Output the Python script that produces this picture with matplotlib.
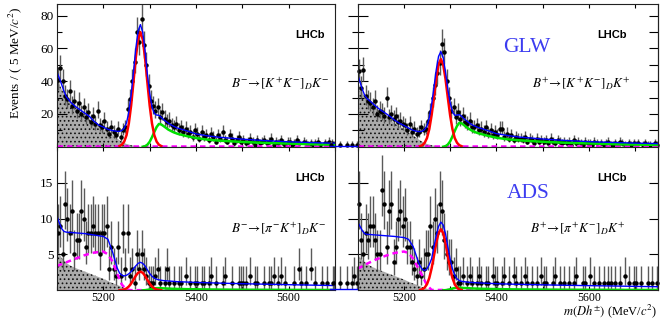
import numpy as np
import matplotlib.pyplot as plt
from matplotlib.ticker import MultipleLocator, FixedLocator, NullFormatter

plt.rcParams['font.family'] = ['Liberation Serif', 'DejaVu Serif']
plt.rcParams['mathtext.fontset'] = 'stix'
plt.rcParams['hatch.linewidth'] = 0.7
plt.rcParams['axes.linewidth'] = 0.8

W, H = 664, 322

# events per 5 MeV bin; left column starts at 5100, right column at 5040
left_bin0 = 5102.5
right_bin0 = 5042.5
bin_width = 5.0

kk_minus_counts = [
    41, 48, 40, 31, 29, 34, 25, 28, 22, 27,
    20, 24, 18, 21, 15, 19, 14, 22, 13, 12,
    16, 11, 8, 12, 9, 7, 11, 6, 10, 12,
    23, 29, 40, 52, 70, 64, 78, 62, 50, 37,
    28, 25, 22, 24, 18, 21, 17, 15, 16, 13,
    12, 14, 10, 12, 9, 11, 8, 9, 6, 10,
    8, 5, 9, 6, 7, 4, 8, 6, 3, 7,
    5, 9, 4, 3, 7, 5, 2, 4, 6, 3,
    4, 2, 3, 5, 3, 1, 4, 2, 3, 4,
    2, 3, 5, 1, 3, 2, 4, 2, 1, 3,
    3, 1, 2, 4, 2, 0, 3, 2, 1, 2,
    1, 2, 3, 1, 0, 2, 1, 3, 2, 1,
]
kk_plus_counts = [
    1, 0, 0, 0, 1, 0, 0, 1, 0, 1, 0, 1,
    46, 36, 47, 31, 28, 27, 24, 28, 20, 22,
    21, 19, 30, 18, 20, 17, 19, 15, 16, 14,
    13, 10, 14, 9, 11, 8, 9, 12, 10, 11,
    16, 21, 30, 38, 45, 51, 63, 58, 40, 30,
    22, 24, 18, 21, 17, 19, 15, 14, 16, 12,
    12, 13, 10, 11, 9, 12, 8, 10, 7, 9,
    7, 11, 11, 6, 8, 5, 7, 4, 6, 5,
    5, 4, 6, 3, 5, 4, 2, 5, 3, 4,
    3, 4, 2, 5, 3, 2, 4, 3, 2, 3,
    2, 3, 1, 4, 2, 3, 2, 1, 3, 2,
    2, 1, 3, 2, 0, 2, 1, 2, 3, 1,
    1, 2, 1, 3, 2, 1, 0, 2, 1, 2,
    1, 2, 0, 1, 2, 1, 1, 0, 2, 1,
]
pik_minus_counts = [
    8, 9, 5, 12, 10, 8, 11, 5, 7, 7,
    11, 10, 6, 8, 8, 9, 8, 8, 5, 8,
    8, 9, 3, 6, 3, 2, 6, 2, 8, 3,
    8, 2, 3, 1, 5, 3, 5, 3, 2, 1,
    1, 1, 2, 3, 1, 0, 1, 3, 1, 0,
    1, 0, 1, 1, 0, 2, 0, 1, 0, 1,
    1, 0, 1, 1, 0, 1, 2, 0, 1, 0,
    0, 1, 2, 0, 0, 1, 0, 0, 1, 1,
    1, 1, 0, 2, 0, 1, 1, 0, 0, 1,
    0, 1, 1, 2, 0, 1, 2, 0, 1, 0,
    0, 0, 1, 0, 3, 1, 0, 1, 0, 3,
    0, 1, 0, 0, 1, 0, 1, 0, 0, 1,
]
pik_plus_counts = [
    0, 1, 0, 0, 1, 0, 0, 1, 0, 1, 2, 1,
    12, 7, 5, 8, 7, 9, 9, 7, 5, 5,
    14, 12, 6, 11, 12, 4, 6, 10, 11, 9,
    10, 6, 6, 4, 3, 2, 4, 2, 3, 5,
    5, 9, 6, 10, 8, 12, 11, 7, 5, 4,
    4, 2, 3, 1, 1, 2, 0, 1, 2, 1,
    0, 1, 2, 1, 0, 1, 1, 0, 2, 1,
    1, 0, 1, 2, 0, 1, 0, 2, 1, 0,
    1, 0, 2, 1, 0, 1, 0, 1, 0, 2,
    1, 1, 0, 0, 1, 2, 0, 1, 0, 1,
    0, 1, 0, 1, 2, 0, 0, 1, 1, 0,
    2, 0, 1, 0, 1, 0, 1, 0, 1, 1,
    0, 1, 0, 1, 0, 2, 0, 1, 0, 1,
    1, 0, 1, 0, 0, 1, 0, 1, 0, 1,
]

# fit components
total_x = [5100, 5105, 5110, 5115, 5120, 5130, 5140, 5150, 5160, 5170, 5180, 5190,
           5200, 5210, 5220, 5230, 5235, 5240, 5245, 5250, 5255, 5260, 5265, 5270,
           5275, 5280, 5285, 5290, 5295, 5300, 5305, 5310, 5315, 5320, 5325, 5330,
           5340, 5350, 5360, 5380, 5400, 5425, 5450, 5500, 5550, 5600, 5650, 5700, 5750]
kk_minus_total = [45.5, 42.0, 38.0, 34.0, 30.5, 27.0, 24.5, 22.5, 20.5, 18.5, 15.5, 13.2,
                  12.0, 10.6, 9.8, 9.4, 9.4, 9.9, 11.2, 14.5, 21.2, 31.7, 45.4, 59.8,
                  70.7, 74.6, 70.0, 58.6, 44.4, 32.7, 24.4, 20.3, 19.3, 19.2, 18.0, 16.5,
                  14.4, 12.7, 11.4, 9.7, 7.8, 6.6, 5.8, 4.6, 3.7, 3.0, 2.5, 2.1, 1.8]
kk_plus_total = [44.0, 39.5, 35.0, 31.5, 29.5, 27.0, 24.5, 22.3, 20.5, 18.5, 16.2, 14.4,
                 13.0, 11.4, 10.0, 9.3, 9.2, 9.5, 10.5, 12.8, 17.8, 25.8, 36.1, 47.0,
                 55.2, 58.1, 54.5, 45.8, 35.2, 27.0, 21.4, 19.2, 19.3, 19.6, 18.6, 17.1,
                 14.8, 13.0, 11.8, 10.0, 8.0, 6.8, 5.9, 4.7, 3.8, 3.1, 2.6, 2.2, 1.9]
pik_minus_total = [10.3, 9.4, 8.6, 8.2, 8.1, 8.05, 8.0, 7.95, 7.9, 7.8, 7.7, 7.6,
                   7.5, 7.1, 5.3, 3.1, 2.4, 2.1, 2.0, 2.1, 2.3, 2.6, 3.0, 3.4,
                   3.75, 3.9, 3.75, 3.4, 2.85, 2.35, 1.95, 1.7, 1.55, 1.45, 1.4, 1.35,
                   1.3, 1.25, 1.2, 1.15, 1.1, 1.05, 1.0, 0.92, 0.85, 0.78, 0.72, 0.66, 0.6]
pik_plus_total = [9.5, 8.9, 8.3, 7.9, 7.8, 7.75, 7.7, 7.65, 7.6, 7.55, 7.5, 7.42,
                  7.35, 7.1, 6.1, 4.2, 3.4, 2.9, 2.75, 3.0, 3.6, 4.4, 6.1, 7.6,
                  8.9, 9.5, 9.1, 7.9, 6.1, 4.4, 3.0, 2.1, 1.6, 1.35, 1.25, 1.2,
                  1.12, 1.08, 1.04, 0.98, 0.92, 0.87, 0.83, 0.76, 0.7, 0.65, 0.6, 0.55, 0.5]

signal_x = [5235, 5240, 5245, 5250, 5255, 5260, 5265, 5270, 5275, 5280,
            5285, 5290, 5295, 5300, 5305, 5310, 5315, 5320, 5325]
kk_minus_signal = [0.4, 1.2, 3.1, 7.0, 14.2, 25.2, 39.4, 54.3, 65.7, 70.0,
                   65.7, 54.3, 39.4, 25.2, 14.2, 7.0, 3.1, 1.2, 0.4]
kk_plus_signal = [0.3, 0.9, 2.4, 5.3, 10.8, 19.3, 30.1, 41.5, 50.2, 53.5,
                  50.2, 41.5, 30.1, 19.3, 10.8, 5.3, 2.4, 0.9, 0.3]
pik_minus_signal = [0.01, 0.04, 0.12, 0.26, 0.53, 0.94, 1.46, 2.02, 2.44, 2.6,
                    2.44, 2.02, 1.46, 0.94, 0.53, 0.26, 0.12, 0.04, 0.01]
pik_plus_signal = [0.05, 0.15, 0.38, 0.85, 1.72, 3.06, 4.78, 6.59, 7.98, 8.5,
                   7.98, 6.59, 4.78, 3.06, 1.72, 0.85, 0.38, 0.15, 0.05]

dpi_x = [5285, 5290, 5295, 5300, 5305, 5310, 5315, 5320, 5325, 5330, 5340, 5350,
         5360, 5380, 5400, 5425, 5450, 5500, 5550, 5600, 5650, 5700, 5750]
kk_minus_dpi = [0, 0.3, 1.2, 3.0, 5.8, 9.0, 12.0, 13.9, 13.6, 12.6, 10.5, 9.0,
                7.9, 6.5, 5.3, 4.3, 3.7, 2.9, 2.3, 1.9, 1.5, 1.2, 1.0]
kk_plus_dpi = [0, 0.3, 1.3, 3.2, 6.2, 9.6, 12.7, 14.6, 14.3, 13.2, 11.0, 9.4,
               8.3, 6.8, 5.5, 4.5, 3.9, 3.0, 2.4, 2.0, 1.6, 1.3, 1.1]
pik_minus_dpi = [0, 0.02, 0.06, 0.12, 0.2, 0.27, 0.3, 0.3, 0.29, 0.27, 0.24, 0.21,
                 0.19, 0.16, 0.14, 0.12, 0.1, 0.08, 0.07, 0.06, 0.05, 0.04, 0.04]
pik_plus_dpi = [0, 0.02, 0.07, 0.14, 0.24, 0.32, 0.36, 0.36, 0.35, 0.32, 0.29, 0.25,
                0.23, 0.19, 0.17, 0.14, 0.12, 0.1, 0.08, 0.07, 0.06, 0.05, 0.05]

partreco_x = [5100, 5110, 5120, 5130, 5140, 5150, 5160, 5170, 5180, 5190,
              5200, 5210, 5220, 5230, 5240, 5250, 5260, 5270, 5280]
kk_minus_partreco = [42, 35, 30.5, 27.5, 25, 21.5, 19, 17, 14.5, 12.5,
                     11, 9.3, 7.3, 5.0, 3.0, 1.7, 0.9, 0.4, 0]
kk_plus_partreco = [40, 33, 28.5, 26, 23.5, 21, 18.5, 16.5, 14.3, 12.5,
                    10.8, 9.0, 7.0, 4.8, 3.0, 1.7, 0.9, 0.4, 0]
pik_minus_partreco = [5.8, 4.5, 3.8, 3.4, 3.1, 2.85, 2.6, 2.35, 2.1, 1.85,
                      1.6, 1.3, 1.0, 0.75, 0.5, 0.2, 0.05, 0, 0]
pik_plus_partreco = [5.0, 4.2, 3.7, 3.3, 3.0, 2.75, 2.5, 2.25, 2.0, 1.75,
                     1.5, 1.2, 0.95, 0.7, 0.45, 0.2, 0.05, 0, 0]

dashed_x = [5100, 5120, 5140, 5160, 5180, 5200, 5210, 5220, 5230, 5240, 5250, 5260, 5750]
kk_minus_dashed = [0.7] * 13
kk_plus_dashed = [0.7] * 13
pik_minus_dashed = [3.4, 3.9, 4.4, 4.9, 5.25, 5.4, 5.0, 4.0, 2.3, 0.8, 0.1, 0.02, 0.02]
pik_plus_dashed = [3.0, 3.7, 4.3, 4.8, 5.2, 5.4, 5.2, 4.4, 3.2, 2.0, 0.7, 0.05, 0.02]

# total pdf left of the frame in the right column
outside_x = [5040, 5100]
kk_plus_outside = [0.7, 0.7]
pik_plus_outside = [0.2, 0.2]


def poisson_errors(n):
    n = np.asarray(n, dtype=float)
    lo = n - n * (1 - 1 / (9 * n) - 1 / (3 * np.sqrt(n))) ** 3
    hi = np.sqrt(n + 0.75) + 1
    return lo, hi


def draw_panel(ax, counts, bin0, total, signal, dpi, partreco, dashed,
               outside=None):
    counts = np.asarray(counts, dtype=float)
    centres = bin0 + bin_width * np.arange(len(counts))
    keep = counts > 0
    lo, hi = poisson_errors(counts[keep])

    ax.fill_between(partreco_x, 0, partreco, facecolor='#ababab',
                    edgecolor='#111111', hatch='....', linewidth=0, zorder=1)
    eb = ax.errorbar(centres[keep], counts[keep], yerr=[lo, hi], fmt='o',
                     ms=2.2, color='black', ecolor='#5a5a5a', elinewidth=1.0,
                     capsize=0, zorder=2)
    ax.plot(dashed_x, dashed, color='#ff00ff', lw=1.8, ls=(0, (2.2, 1.6)), zorder=3)
    ax.plot(dpi_x, dpi, color='#00e000', lw=1.8, zorder=3)
    ax.plot(signal_x, signal, color='#ff0000', lw=1.8, zorder=3)
    ax.plot(total_x, total, color='#0000ff', lw=1.0, zorder=4)
    if outside is not None:
        eb.lines[0].set_clip_on(False)
        for coll in eb.lines[2]:
            coll.set_clip_on(False)
        ax.plot(outside_x, outside, color='#0000ff', lw=1.0, zorder=4,
                clip_on=False)


fig = plt.figure(figsize=(W / 100, H / 100), dpi=100)


def px_axes(x0, y0, x1, y1):
    return fig.add_axes([x0 / W, 1 - y1 / H, (x1 - x0) / W, (y1 - y0) / H])


ax_tl = px_axes(57, 4.3, 335, 146.7)
ax_tr = px_axes(357.7, 4.3, 658, 146.7)
ax_bl = px_axes(57, 146.7, 335, 290.3)
ax_br = px_axes(357.7, 146.7, 658, 290.3)

draw_panel(ax_tl, kk_minus_counts, left_bin0, kk_minus_total, kk_minus_signal,
           kk_minus_dpi, kk_minus_partreco, kk_minus_dashed)
draw_panel(ax_tr, kk_plus_counts, right_bin0, kk_plus_total, kk_plus_signal,
           kk_plus_dpi, kk_plus_partreco, kk_plus_dashed, kk_plus_outside)
draw_panel(ax_bl, pik_minus_counts, left_bin0, pik_minus_total, pik_minus_signal,
           pik_minus_dpi, pik_minus_partreco, pik_minus_dashed)
draw_panel(ax_br, pik_plus_counts, right_bin0, pik_plus_total, pik_plus_signal,
           pik_plus_dpi, pik_plus_partreco, pik_plus_dashed, pik_plus_outside)

for ax in (ax_tl, ax_bl):
    ax.set_xlim(5100, 5700)
for ax in (ax_tr, ax_br):
    ax.set_xlim(5100, 5750)
for ax in (ax_tl, ax_tr):
    ax.set_ylim(0, 87)
    ax.yaxis.set_major_locator(FixedLocator([20, 40, 60, 80]))
    ax.yaxis.set_minor_locator(FixedLocator([10, 30, 50, 70]))
for ax in (ax_bl, ax_br):
    ax.set_ylim(0, 20)
    ax.yaxis.set_major_locator(FixedLocator([5, 10, 15]))
    ax.yaxis.set_minor_locator(FixedLocator([]))

for ax in (ax_tl, ax_tr, ax_bl, ax_br):
    ax.xaxis.set_major_locator(MultipleLocator(200))
    ax.xaxis.set_minor_locator(MultipleLocator(100))
    ax.tick_params(axis='x', which='both', direction='in', top=True, bottom=True,
                   length=3, width=0.8, labelsize=8.5, pad=1.0)
    for s in ax.spines.values():
        s.set_color('#222222')
        s.set_zorder(6)

for ax in (ax_tl, ax_tr):
    ax.tick_params(axis='x', labelbottom=False)

for ax in (ax_tl, ax_bl):
    ax.tick_params(axis='y', which='major', direction='in', length=7.2, width=0.8,
                   right=False, labelsize=9.5, pad=2.5)
    ax.tick_params(axis='y', which='minor', direction='in', length=3.6, width=0.8,
                   right=False)

for ax in (ax_tr, ax_br):
    ax.tick_params(axis='y', which='major', direction='inout', length=14.4,
                   width=0.8, labelleft=False, right=False)
    ax.tick_params(axis='y', which='minor', direction='inout', length=8.6,
                   width=0.8, right=False)
    sec = ax.secondary_yaxis('right')
    sec.yaxis.set_major_locator(ax.yaxis.get_major_locator())
    sec.yaxis.set_minor_locator(ax.yaxis.get_minor_locator())
    sec.yaxis.set_major_formatter(NullFormatter())
    sec.tick_params(axis='y', which='both', direction='in', length=6.5, width=0.8)
    sec.spines['right'].set_color('#222222')

# labels and annotations
fig.text(15 / W, 1 - 63 / H, r'Events / ( 5 MeV/$c^{2}$)', rotation=90,
         ha='center', va='center', fontsize=9.5)
fig.text(657 / W, 1 - 311 / H, r'$m(Dh^{\pm})$ (MeV/$c^{2}$)', ha='right',
         va='center', fontsize=9)

for x_px, y_px in ((295, 35), (597, 35), (295, 178), (597, 178)):
    fig.text(x_px / W, 1 - y_px / H, 'LHCb', family='Liberation Sans',
             fontweight='bold', ha='left', va='center', fontsize=8)

fig.text(527 / W, 1 - 47 / H, 'GLW', color='#3c3cf0', ha='center', va='center',
         fontsize=15.5)
fig.text(528 / W, 1 - 193 / H, 'ADS', color='#3c3cf0', ha='center', va='center',
         fontsize=15.5)

decays = [
    (280, 83, r'$B^{-}\!\rightarrow\![K^{+}K^{-}]_{D}K^{-}$'),
    (581, 83, r'$B^{+}\!\rightarrow\![K^{+}K^{-}]_{D}K^{+}$'),
    (279, 228, r'$B^{-}\!\rightarrow\![\pi^{-}K^{+}]_{D}K^{-}$'),
    (578, 228, r'$B^{+}\!\rightarrow\![\pi^{+}K^{-}]_{D}K^{+}$'),
]
for x_px, y_px, label in decays:
    fig.text(x_px / W, 1 - y_px / H, label, ha='center', va='center', fontsize=9.5)

fig.savefig('out.png', dpi=100)
